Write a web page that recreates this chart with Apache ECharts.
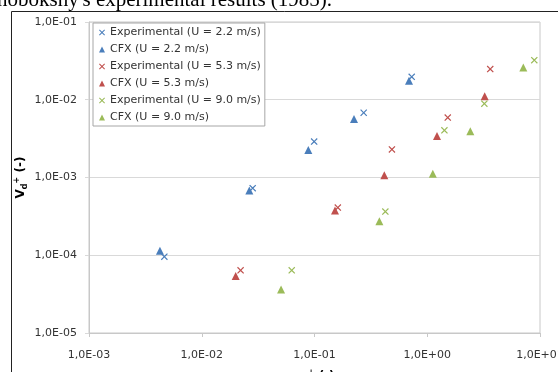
<!DOCTYPE html>
<html style="height: 100%">
<head>
    <script src="https://cdn.jsdelivr.net/npm/echarts@6.0.0/dist/echarts.min.js"></script>
</head>
<body style="height: 100%; margin: 0; background: #fff">
    <div id="main" style="width: 558px; height: 372px"></div>
    <script type="text/javascript">
    var chartDom = document.getElementById('main');
    var myChart = echarts.init(chartDom);

    // [tau_p+, Vd+]
    var exp22 = [[0.00466, 9.6e-5], [0.0283, 7.3e-4], [0.0993, 2.9e-3], [0.273, 6.8e-3], [0.728, 0.0197]];
    var cfx22 = [[0.00426, 1.14e-4], [0.0264, 6.8e-4], [0.0881, 2.26e-3], [0.224, 5.65e-3], [0.689, 0.0175]];
    var exp53 = [[0.0221, 6.4e-5], [0.161, 4.1e-4], [0.486, 2.3e-3], [1.52, 5.9e-3], [3.62, 0.0248]];
    var cfx53 = [[0.0200, 5.4e-5], [0.152, 3.75e-4], [0.416, 1.07e-3], [1.22, 3.41e-3], [3.23, 0.0111]];
    var exp90 = [[0.0628, 6.4e-5], [0.425, 3.64e-4], [1.42, 4.04e-3], [3.21, 8.9e-3], [8.90, 0.0323]];
    var cfx90 = [[0.0505, 3.62e-5], [0.376, 2.73e-4], [1.12, 1.12e-3], [2.41, 3.92e-3], [7.11, 0.0260]];

    var names = ['Experimental (U = 2.2 m/s)', 'CFX (U = 2.2 m/s)',
                 'Experimental (U = 5.3 m/s)', 'CFX (U = 5.3 m/s)',
                 'Experimental (U = 9.0 m/s)', 'CFX (U = 9.0 m/s)'];

    var blue = '#4a7ebb', red = '#c0504d', green = '#9bbb59';
    var cross = 'path://M0,1.2 L1.2,0 L5,3.8 L8.8,0 L10,1.2 L6.2,5 L10,8.8 L8.8,10 L5,6.2 L1.2,10 L0,8.8 L3.8,5 Z';
    var font = 'DejaVu Sans';

    function sci(v) {
        var e = Math.round(Math.log10(v));
        var a = Math.abs(e);
        return '1,0E' + (e < 0 ? '-' : '+') + (a < 10 ? '0' : '') + a;
    }

    function makeSeries(name, data, color, isExp) {
        return {
            name: name,
            type: 'scatter',
            data: data,
            symbol: isExp ? cross : 'triangle',
            symbolSize: isExp ? 7 : 8,
            itemStyle: { color: color, opacity: 1 },
            z: isExp ? 3 : 2
        };
    }

    var nameRich = {
        v: { fontSize: 12, fontWeight: 'bold', fontFamily: font, color: '#000', lineHeight: 16 },
        s: { fontSize: 8, fontWeight: 'bold', fontFamily: font, color: '#000', lineHeight: 8, verticalAlign: 'bottom' },
        p: { fontSize: 8, fontWeight: 'bold', fontFamily: font, color: '#000', lineHeight: 8, verticalAlign: 'top' }
    };

    var option = {
        backgroundColor: '#fff',
        animation: false,
        textStyle: { fontFamily: font },
        grid: {
            left: 89, right: 18, top: 22, bottom: 39,
            show: true, borderColor: '#c8c8c8', borderWidth: 1,
            containLabel: false, outerBoundsMode: 'none'
        },
        legend: {
            orient: 'vertical',
            left: 93, top: 23,
            padding: [4, 4, 3, 6],
            itemGap: 6,
            itemWidth: 6, itemHeight: 6,
            borderColor: '#a6a6a6', borderWidth: 1,
            backgroundColor: '#fff',
            textStyle: { fontSize: 11, color: '#333', fontFamily: font },
            data: names
        },
        xAxis: {
            type: 'log', logBase: 10, min: 0.001, max: 10,
            name: '{v|τ}{s|p}{p|+}{v| (-)}',
            nameLocation: 'middle', nameGap: 36, nameMoveOverlap: false,
            nameTextStyle: { rich: nameRich },
            axisLine: { show: true, lineStyle: { color: '#c8c8c8' } },
            axisTick: { show: true, length: 4, lineStyle: { color: '#c8c8c8' } },
            minorTick: { show: false },
            splitLine: { show: false },
            axisLabel: { formatter: sci, fontSize: 11, color: '#333', margin: 17, fontFamily: font }
        },
        yAxis: {
            type: 'log', logBase: 10, min: 1e-5, max: 0.1,
            name: '{v|V}{s|d}{p|+}{v| (-)}',
            nameLocation: 'middle', nameGap: 60, nameRotate: 90, nameMoveOverlap: false,
            nameTextStyle: { rich: nameRich },
            axisLine: { show: true, lineStyle: { color: '#c8c8c8' } },
            axisTick: { show: true, length: 4, lineStyle: { color: '#d9d9d9' } },
            splitLine: { show: true, lineStyle: { color: '#d9d9d9', width: 1 } },
            axisLabel: { formatter: sci, fontSize: 11, color: '#333', margin: 12, fontFamily: font }
        },
        graphic: [
            { type: 'line', shape: { x1: 11.5, y1: 11.5, x2: 558, y2: 11.5 }, style: { stroke: '#222', lineWidth: 1 } },
            { type: 'line', shape: { x1: 11.5, y1: 11.5, x2: 11.5, y2: 372 }, style: { stroke: '#222', lineWidth: 1 } },
            { type: 'text', left: -3, top: -10,
              style: { text: "nobokshy's experimental results (1985).", fontFamily: 'Liberation Serif', fontSize: 21, fill: '#000' } }
        ],
        series: [
            makeSeries(names[0], exp22, blue, true),
            makeSeries(names[1], cfx22, blue, false),
            makeSeries(names[2], exp53, red, true),
            makeSeries(names[3], cfx53, red, false),
            makeSeries(names[4], exp90, green, true),
            makeSeries(names[5], cfx90, green, false)
        ]
    };

    myChart.setOption(option);
    </script>
</body>
</html>
